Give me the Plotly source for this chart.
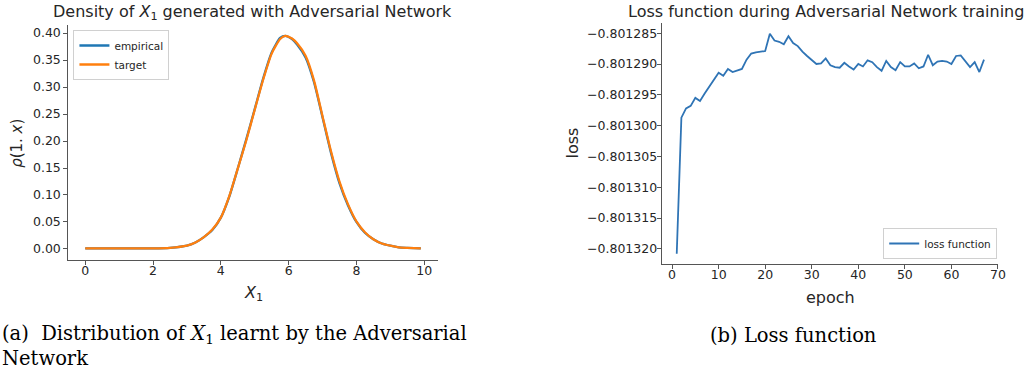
import plotly.graph_objects as go

# ---- Left panel: density of X1 ----
x_density = [0.0, 0.5, 1.0, 1.5, 2.0, 2.5, 3.0, 3.25, 3.5, 3.75, 4.0, 4.25, 4.5, 4.75, 5.0,
             5.25, 5.5, 5.75, 5.9, 6.1, 6.25, 6.5, 6.75, 7.0, 7.25, 7.5, 7.75, 8.0, 8.25,
             8.5, 8.75, 9.0, 9.25, 9.5, 9.9]
empirical = [0.001, 0.001, 0.001, 0.001, 0.001, 0.002, 0.006, 0.012, 0.022, 0.035, 0.058, 0.097,
             0.149, 0.203, 0.259, 0.316, 0.364, 0.391, 0.395, 0.389, 0.379, 0.355, 0.309, 0.244,
             0.178, 0.122, 0.081, 0.050, 0.030, 0.018, 0.010, 0.006, 0.003, 0.002, 0.001]
target = [0.001, 0.001, 0.001, 0.001, 0.001, 0.002, 0.006, 0.012, 0.022, 0.036, 0.058, 0.098,
          0.149, 0.201, 0.258, 0.314, 0.362, 0.389, 0.395, 0.390, 0.381, 0.358, 0.312, 0.246,
          0.181, 0.125, 0.083, 0.051, 0.031, 0.018, 0.010, 0.006, 0.003, 0.002, 0.001]
x_ticks_left = [0, 2, 4, 6, 8, 10]
y_ticks_left = [0.00, 0.05, 0.10, 0.15, 0.20, 0.25, 0.30, 0.35, 0.40]

# ---- Right panel: loss per epoch ----
epochs = list(range(1, 68))
loss = [-0.8013208, -0.8012987, -0.8012972, -0.8012968, -0.8012955, -0.8012960, -0.8012948,
        -0.8012937, -0.8012926, -0.8012914, -0.8012919, -0.8012908, -0.8012913, -0.8012911,
        -0.8012908, -0.8012893, -0.8012883, -0.8012881, -0.8012880, -0.8012879, -0.8012851,
        -0.8012862, -0.8012864, -0.8012868, -0.8012855, -0.8012866, -0.8012871, -0.8012880,
        -0.8012887, -0.8012893, -0.8012900, -0.8012899, -0.8012891, -0.8012902, -0.8012905,
        -0.8012906, -0.8012898, -0.8012904, -0.8012909, -0.8012900, -0.8012904, -0.8012894,
        -0.8012897, -0.8012905, -0.8012911, -0.8012895, -0.8012905, -0.8012910, -0.8012897,
        -0.8012904, -0.8012904, -0.8012899, -0.8012907, -0.8012904, -0.8012885, -0.8012902,
        -0.8012896, -0.8012895, -0.8012896, -0.8012900, -0.8012887, -0.8012886, -0.8012895,
        -0.8012905, -0.8012897, -0.8012913, -0.8012893]
x_ticks_right = [0, 10, 20, 30, 40, 50, 60, 70]
y_ticks_right = [-0.801320, -0.801315, -0.801310, -0.801305, -0.801300, -0.801295,
                 -0.801290, -0.801285]

BLUE = "#1f77b4"
ORANGE = "#ff7f0e"
W, H = 1032, 374
FONT = "DejaVu Sans"
SERIF = "DejaVu Serif"
TXT = "#262626"
AX = "#555555"


def px(x):
    return x / W


def py(y):
    return 1 - y / H


fig = go.Figure()
fig.add_trace(go.Scatter(x=x_density, y=empirical, mode="lines", name="empirical",
                         line=dict(color=BLUE, width=2.3, shape="spline", smoothing=0.6),
                         xaxis="x", yaxis="y", legend="legend"))
fig.add_trace(go.Scatter(x=x_density, y=target, mode="lines", name="target",
                         line=dict(color=ORANGE, width=2.3, shape="spline", smoothing=0.6),
                         xaxis="x", yaxis="y", legend="legend"))
fig.add_trace(go.Scatter(x=epochs, y=loss, mode="lines", name="loss function",
                         line=dict(color="#2f74b5", width=1.8),
                         xaxis="x2", yaxis="y2", legend="legend2"))

axis_common = dict(showgrid=False, zeroline=False, showline=True, linecolor=AX, linewidth=1.3,
                   ticks="outside", ticklen=4, tickwidth=1.1, tickcolor=AX, mirror=False,
                   tickfont=dict(family=FONT, size=12.5, color=TXT))

fig.update_layout(
    width=W, height=H,
    margin=dict(l=0, r=0, t=0, b=0),
    paper_bgcolor="white", plot_bgcolor="white",
    showlegend=True,
    xaxis=dict(domain=[px(69), px(441)], range=[-0.495, 10.395], tickvals=x_ticks_left,
               anchor="y", ticklabelstandoff=-5, **axis_common),
    yaxis=dict(domain=[py(260), py(25)], range=[-0.0205, 0.415], tickvals=y_ticks_left,
               tickformat=".2f", anchor="x", ticklabelstandoff=0, **axis_common),
    xaxis2=dict(domain=[px(667), px(1006)], range=[-2.2, 70.05], tickvals=x_ticks_right,
                anchor="y2", ticklabelstandoff=-5, **axis_common),
    yaxis2=dict(domain=[py(263.7), py(22.7)], range=[-0.8013224, -0.8012833],
                tickvals=y_ticks_right, tickformat=".6f", anchor="x2", ticklabelstandoff=-3,
                **axis_common),
    legend=dict(x=px(74), y=py(30), xanchor="left", yanchor="top",
                bgcolor="white", bordercolor="#d0d0d0", borderwidth=1,
                font=dict(family=FONT, size=10.5, color=TXT), itemwidth=30,
                tracegroupgap=0),
    legend2=dict(x=px(1005), y=py(259), xanchor="right", yanchor="bottom",
                 bgcolor="white", bordercolor="#d0d0d0", borderwidth=1,
                 font=dict(family=FONT, size=10.5, color=TXT), itemwidth=30),
)

annotations = [
    dict(text="Density of <i>X</i><sub>1</sub> generated with Adversarial Network",
         x=px(254), y=py(12), font=dict(family=FONT, size=16, color=TXT)),
    dict(text="Loss function during Adversarial Network training",
         x=px(832), y=py(11), font=dict(family=FONT, size=16, color=TXT)),
    dict(text="<i>ρ</i>(1. <i>x</i>)", x=px(17), y=py(143), textangle=-90,
         font=dict(family=FONT, size=15, color=TXT)),
    dict(text="loss", x=px(576), y=py(143), textangle=-90,
         font=dict(family=FONT, size=16, color=TXT)),
    dict(text="<i>X</i><sub>1</sub>", x=px(255), y=py(293),
         font=dict(family=FONT, size=16, color=TXT)),
    dict(text="epoch", x=px(837), y=py(297),
         font=dict(family=FONT, size=16, color=TXT)),
    dict(text="(a)  Distribution of <i>X</i><sub>1</sub> learnt by the Adversarial<br>Network",
         x=px(0), y=py(320), xanchor="left", yanchor="top", align="left",
         font=dict(family=SERIF, size=19.5, color="#000000")),
    dict(text="(b) Loss function", x=px(800), y=py(335),
         font=dict(family=SERIF, size=19.5, color="#000000")),
]
for a in annotations:
    a.setdefault("xanchor", "center")
    a.setdefault("yanchor", "middle")
    a.update(xref="paper", yref="paper", showarrow=False)
fig.update_layout(annotations=annotations)

fig.write_html("out.html", config={"displayModeBar": False},
               post_script="document.body.style.margin='0px';document.body.style.overflow='hidden';")
